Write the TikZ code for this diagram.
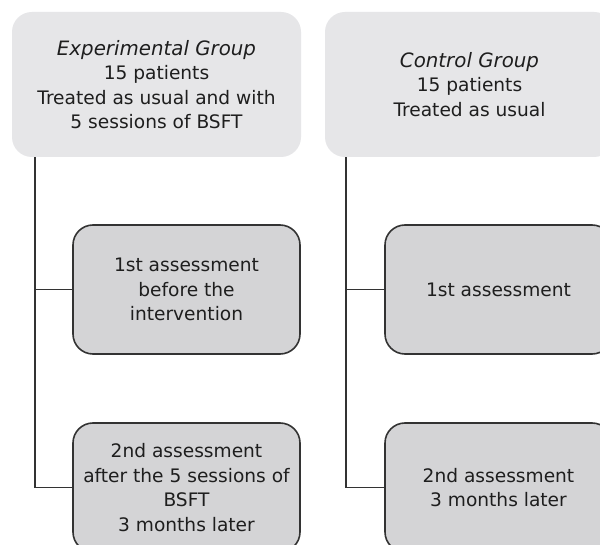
\documentclass[tikz,border=0pt]{standalone}
\usepackage{fontspec}
\setmainfont{DejaVu Sans}
\definecolor{topfill}{HTML}{E6E6E8}
\definecolor{subfill}{HTML}{D4D4D6}
\definecolor{edge}{HTML}{333333}
\definecolor{ink}{HTML}{1E1E1E}
\newcommand{\grouptitle}[1]{{\fontsize{19.8}{24.5}\selectfont\itshape #1}}
\tikzset{
  groupbox/.style={rectangle, rounded corners=20pt, fill=topfill, minimum width=289pt, minimum height=145pt, align=center, text=ink, inner sep=0pt, font=\fontsize{18.6}{24.5}\selectfont},
  stagebox/.style={rectangle, rounded corners=20pt, fill=subfill, draw=edge, line width=1.6pt, minimum width=227pt, minimum height=129pt, align=center, text=ink, inner sep=0pt, font=\fontsize{18.6}{24.5}\selectfont},
  link/.style={draw=edge, line width=1.6pt}
}
\begin{document}
\begin{tikzpicture}[x=1pt,y=-1pt]
\clip (0,0) rectangle (600,545);
\useasboundingbox (0,0) rectangle (600,545);
\fill[white] (0,0) rectangle (600,545);
\node[groupbox] (expg) at (156.5,84.5) {\grouptitle{Experimental Group}\\15 patients\\Treated as usual and with\\5 sessions of BSFT};
\node[groupbox] (ctrl) at (469.5,84.5) {\grouptitle{Control Group}\\15 patients\\Treated as usual};
\node[stagebox] (e1) at (186.5,289.5) {1st assessment\\before the\\intervention};
\node[stagebox] (e2) at (186.5,487.5) {2nd assessment\\after the 5 sessions of\\BSFT\\3 months later};
\node[stagebox] (c1) at (498.5,289.5) {1st assessment};
\node[stagebox] (c2) at (498.5,487.5) {2nd assessment\\3 months later};
\draw[link] ([xshift=23pt]expg.south west) coordinate (ea) |- (e2.west);
\draw[link] (e1.west) -- (e1.west -| ea);
\draw[link] ([xshift=21pt]ctrl.south west) coordinate (ca) |- (c2.west);
\draw[link] (c1.west) -- (c1.west -| ca);
\end{tikzpicture}
\end{document}
